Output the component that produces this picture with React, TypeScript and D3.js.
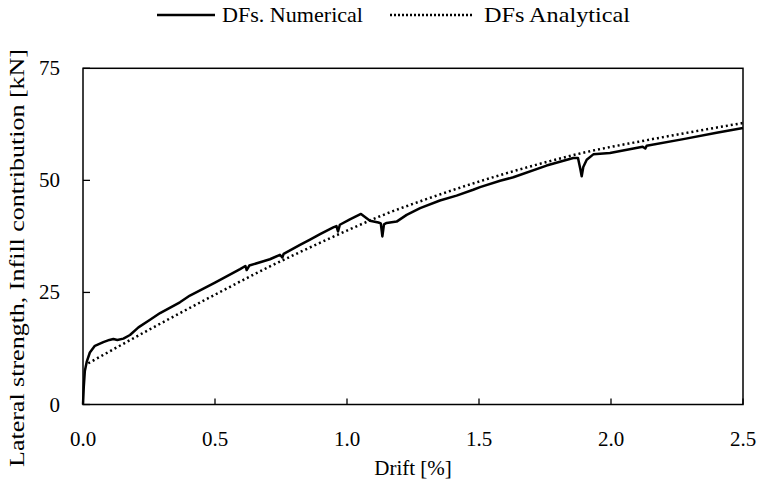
import React from "react";
import * as d3 from "d3";

const numDrift = [0, 0.003, 0.007, 0.014, 0.026, 0.045, 0.077, 0.1, 0.115, 0.13, 0.153, 0.178, 0.21, 0.254, 0.292, 0.367, 0.405, 0.5, 0.595, 0.615, 0.62, 0.63, 0.708, 0.746, 0.755, 0.76, 0.822, 0.86, 0.898, 0.948, 0.96, 0.966, 0.973, 1.011, 1.053, 1.087, 1.119, 1.128, 1.134, 1.14, 1.15, 1.188, 1.226, 1.277, 1.352, 1.415, 1.478, 1.504, 1.58, 1.63, 1.756, 1.857, 1.875, 1.884, 1.889, 1.895, 1.908, 1.933, 1.996, 2.12, 2.13, 2.135, 2.274, 2.4, 2.5];
const numForce = [0, 4, 7.5, 9.5, 11.6, 13.1, 13.9, 14.4, 14.6, 14.4, 14.7, 15.5, 17.2, 18.9, 20.4, 22.8, 24.3, 27.2, 30.2, 30.9, 30.0, 31.0, 32.4, 33.4, 32.8, 33.6, 35.6, 36.8, 38.0, 39.5, 39.8, 38.6, 40.1, 41.3, 42.5, 41.0, 40.6, 40.4, 37.5, 40.2, 40.5, 40.8, 42.3, 43.8, 45.5, 46.6, 47.9, 48.5, 49.9, 50.7, 53.3, 55.0, 55.0, 52.5, 50.9, 53.0, 54.6, 55.8, 56.1, 57.5, 57.1, 57.7, 59.2, 60.6, 61.7];

const anaDrift = [0.02, 0.254, 0.5, 0.708, 0.822, 1.0, 1.125, 1.3, 1.504, 1.769, 1.883, 2.148, 2.5];
const anaForce = [9.2, 16.8, 24.5, 30.8, 34.0, 38.8, 42.0, 45.8, 49.8, 54.3, 56.0, 59.1, 62.8];

const xTicks = [0, 0.5, 1.0, 1.5, 2.0, 2.5];
const yTicks = [0, 25, 50, 75];

const seriesNames = ["DFs. Numerical", "DFs Analytical"];
const xTitle = "Drift [%]";
const yTitle = "Lateral strength, Infill contribution [kN]";

export default function App() {
  const W = 759, H = 490;
  const left = 83, right = 743, top = 68.3, bottom = 404.5;
  const x = d3.scaleLinear().domain([0, 2.5]).range([left, right]);
  const y = d3.scaleLinear().domain([0, 75]).range([bottom, top]);
  const font = "'Liberation Serif', 'DejaVu Serif', serif";

  const numPts: [number, number][] = numDrift.map((d, i) => [d, numForce[i]]);
  const anaPts: [number, number][] = anaDrift.map((d, i) => [d, anaForce[i]]);
  const lineLin = d3.line<[number, number]>().x(d => x(d[0])).y(d => y(d[1]));
  const lineSmooth = d3.line<[number, number]>().x(d => x(d[0])).y(d => y(d[1])).curve(d3.curveMonotoneX);

  return (
    <svg width={W} height={H} style={{ position: "absolute", left: 0, top: 0, background: "#fff" }} fontFamily={font}>
      <rect x={0} y={0} width={W} height={H} fill="#fff" />
      {/* legend */}
      <line x1={157} x2={215} y1={15} y2={15} stroke="#000" strokeWidth={2.5} />
      <text x={222} y={22} fontSize={21} textLength={141} lengthAdjust="spacingAndGlyphs">{seriesNames[0]}</text>
      <line x1={390} x2={474} y1={15} y2={15} stroke="#000" strokeWidth={2.5} strokeDasharray="2 2" />
      <text x={484} y={22} fontSize={21} textLength={146} lengthAdjust="spacingAndGlyphs">{seriesNames[1]}</text>

      {/* frame */}
      <rect x={left} y={top} width={right - left} height={bottom - top} fill="none" stroke="#000" strokeWidth={1.5} />
      {xTicks.map(t => (
        <g key={"x" + t}>
          <line x1={x(t)} x2={x(t)} y1={bottom} y2={bottom - 6} stroke="#000" strokeWidth={1.3} />
          <text x={x(t)} y={446} fontSize={21} textAnchor="middle">{t.toFixed(1)}</text>
        </g>
      ))}
      {yTicks.map(t => (
        <g key={"y" + t}>
          <line x1={left} x2={left + 7} y1={y(t)} y2={y(t)} stroke="#000" strokeWidth={1.3} />
          <text x={60} y={y(t) + 7} fontSize={21} textAnchor="end">{t}</text>
        </g>
      ))}
      <text x={413} y={475} fontSize={21} textAnchor="middle">{xTitle}</text>
      <text transform={`translate(24,${258}) rotate(-90)`} fontSize={21} textAnchor="middle" textLength={418} lengthAdjust="spacingAndGlyphs">{yTitle}</text>

      <path d={lineSmooth(anaPts) || ""} fill="none" stroke="#000" strokeWidth={2.5} strokeDasharray="2 3" />
      <path d={lineLin(numPts) || ""} fill="none" stroke="#000" strokeWidth={2.5} strokeLinejoin="round" />
    </svg>
  );
}
